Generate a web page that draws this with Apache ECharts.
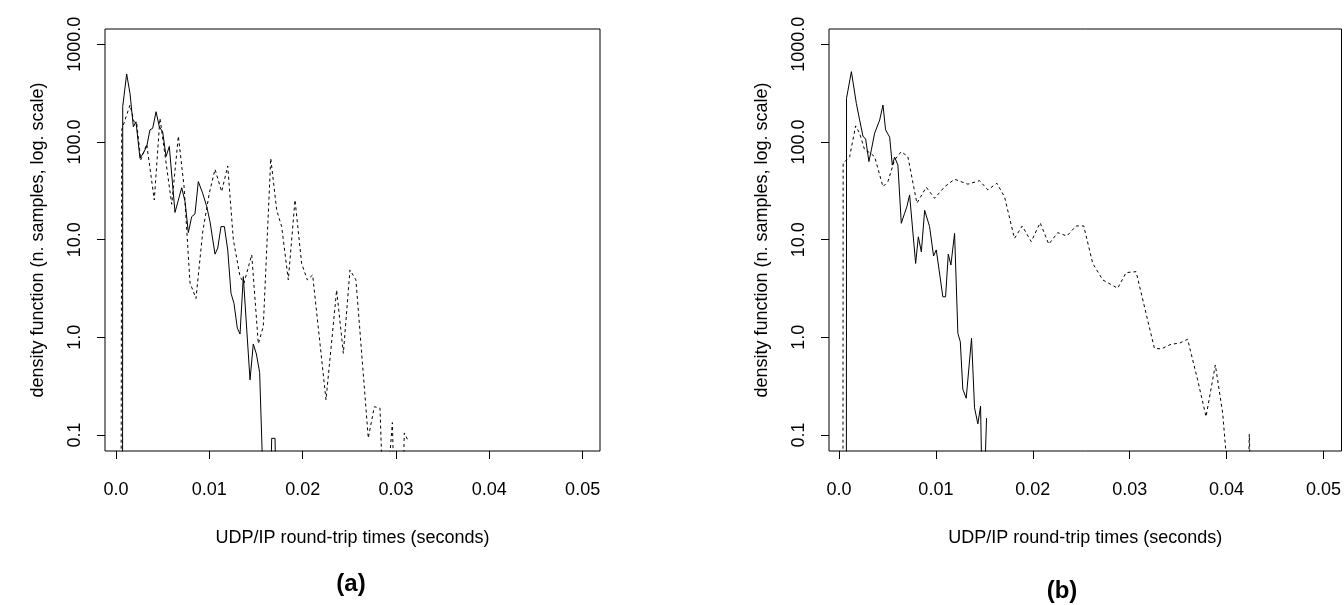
<!DOCTYPE html>
<html>
<head>
<meta charset="utf-8">
<script src="https://cdn.jsdelivr.net/npm/echarts@6/dist/echarts.min.js"></script>
<style>
html,body{margin:0;padding:0;background:#fff;}
#chart{width:1344px;height:605px;}
</style>
</head>
<body>
<div id="chart"></div>
<script>
// ---- data (x: seconds, y: density, log scale) ----
var leftSolid = [
 [0.00070,0.01],[0.00072,230],[0.00114,497],[0.00150,313],[0.00186,143],[0.00214,161],
 [0.00257,68],[0.00293,77],[0.00329,90],[0.00364,133],[0.00393,138],[0.00429,204],
 [0.00464,143],[0.00500,127],[0.00536,71],[0.00571,90],[0.00632,19],[0.00704,34],
 [0.00740,24.5],[0.00775,11.8],[0.00811,17.2],[0.00846,18.3],[0.00882,39.3],[0.00929,29.8],
 [0.00972,21.8],[0.01007,15.3],[0.01061,7.1],[0.01090,8.2],[0.01125,13.6],[0.01161,13.6],
 [0.01197,7.85],[0.01232,2.83],[0.01264,2.23],[0.01300,1.24],[0.01329,1.08],[0.01364,4.18],
 [0.01436,0.367],[0.01471,0.855],[0.01504,0.676],[0.01539,0.436],[0.01593,0.01],
 [0.01650,0.01],[0.01668,0.0925],[0.01704,0.0925],[0.01722,0.01]
];
var leftDashed = [
 [0.00054,0.01],[0.00061,133],[0.00150,239],[0.00193,161],[0.00222,155],[0.00265,65.5],
 [0.00329,95],[0.00410,25.5],[0.00471,175],[0.00597,23],[0.00668,115],[0.00729,35],
 [0.00793,3.6],[0.00857,2.5],[0.00929,12],[0.01000,30],[0.01061,52.5],[0.01132,31],
 [0.01197,56.8],[0.01257,10],[0.01329,4.18],[0.01371,3.58],[0.01454,7.0],[0.01525,0.86],
 [0.01578,1.29],[0.01658,68],[0.01693,34.8],[0.01722,20],[0.01775,13.6],[0.01846,3.87],
 [0.01918,25.5],[0.01989,5.7],[0.02050,3.87],[0.02107,4.35],[0.02250,0.229],[0.02364,3.05],
 [0.02436,0.687],[0.02507,4.9],[0.02571,3.87],[0.02703,0.093],[0.02768,0.195],[0.02829,0.188],
 [0.02872,0.01],[0.02961,0.134],[0.02993,0.01],[0.03064,0.01],[0.03089,0.105],[0.03137,0.085]
];
var rightSolid = [
 [0.00076,0.01],[0.00078,280],[0.00128,525],[0.00179,249],[0.00213,168],[0.00247,115],
 [0.00275,107],[0.00309,63],[0.00334,83],[0.00368,123],[0.00420,168],[0.00454,239],
 [0.00481,133],[0.00523,112],[0.00550,58],[0.00574,70],[0.00608,58],[0.00643,14.7],
 [0.00677,18.6],[0.00701,21.8],[0.00729,28.7],[0.00791,5.7],[0.00819,10.7],[0.00850,7.5],
 [0.00884,20],[0.00935,13.6],[0.00976,6.8],[0.01004,7.85],[0.01072,2.6],[0.01100,2.6],
 [0.01128,7.1],[0.01155,5.5],[0.01193,11.6],[0.01227,1.1],[0.01252,0.9],[0.01278,0.294],
 [0.01313,0.238],[0.01368,0.98],[0.01399,0.19],[0.01433,0.13],[0.01461,0.197],
 [0.01485,0.01],[0.01523,0.149]
];
var rightDashed = [
 [0.00041,0.01],[0.00043,60.5],[0.00110,70.7],[0.00172,146],[0.00213,123],[0.00265,82.8],
 [0.00316,78],[0.00368,70.7],[0.00454,34.8],[0.00505,39.3],[0.00574,65.5],[0.00643,79.6],
 [0.00711,70.7],[0.00804,23.6],[0.00901,34.4],[0.00987,26.5],[0.01090,34.8],[0.01193,41.5],
 [0.01330,37],[0.01451,40.2],[0.01536,32.3],[0.01629,37.8],[0.01708,27.5],[0.01811,10.3],
 [0.01891,13.8],[0.01984,9.55],[0.02076,14.9],[0.02165,9.0],[0.02258,11.8],[0.02351,10.9],
 [0.02447,13.8],[0.02526,13.8],[0.02619,5.7],[0.02722,3.87],[0.02876,3.18],[0.02963,4.6],
 [0.03066,4.7],[0.03255,0.773],[0.03324,0.76],[0.03427,0.85],[0.03512,0.87],[0.03598,0.955],
 [0.03701,0.367],[0.03788,0.154],[0.03884,0.521],[0.03960,0.167],[0.04062,0.01],
 [0.04216,0.01],[0.04234,0.102],[0.04265,0.01]
];
var xTicks = [0, 0.01, 0.02, 0.03, 0.04, 0.05];
var xTickLabels = ['0.0', '0.01', '0.02', '0.03', '0.04', '0.05'];
var yTicks = [0.1, 1, 10, 100, 1000];
var yTickLabels = ['0.1', '1.0', '10.0', '100.0', '1000.0'];
var xTitle = 'UDP/IP round-trip times (seconds)';
var yTitle = 'density function (n. samples, log. scale)';
var panelLabels = ['(a)', '(b)'];

var FONT = '"Liberation Sans", Arial, Helvetica, sans-serif';

function xAxisFor(gi, min, max) {
  return {
    type: 'value', gridIndex: gi, min: min, max: max,
    splitLine: {show: false},
    axisLine: {show: false, onZero: false},
    axisTick: {show: true, inside: false, length: 8, customValues: xTicks,
      lineStyle: {color: '#000', width: 1}},
    axisLabel: {customValues: xTicks, margin: 30, color: '#000', fontSize: 18, fontFamily: FONT,
      formatter: function (v) { var i = xTicks.indexOf(v); return i >= 0 ? xTickLabels[i] : ''; }},
    name: xTitle, nameLocation: 'middle', nameGap: 78,
    nameTextStyle: {color: '#000', fontSize: 18, fontFamily: FONT}
  };
}
function yAxisFor(gi) {
  return {
    type: 'log', gridIndex: gi, min: 0.0686, max: 1434, logBase: 10,
    splitLine: {show: false},
    axisLine: {show: false, onZero: false},
    axisTick: {show: true, inside: false, length: 8, customValues: yTicks,
      lineStyle: {color: '#000', width: 1}},
    axisLabel: {customValues: yTicks, rotate: 90, margin: 21, color: '#000', fontSize: 18, fontFamily: FONT,
      formatter: function (v) {
        for (var i = 0; i < yTicks.length; i++) { if (Math.abs(v - yTicks[i]) < yTicks[i] * 1e-6) return yTickLabels[i]; }
        return '';
      }},
    name: yTitle, nameLocation: 'middle', nameRotate: 90, nameGap: 58,
    nameTextStyle: {color: '#000', fontSize: 18, fontFamily: FONT}
  };
}
function lineSeries(data, xi, dashed) {
  return {
    type: 'line', xAxisIndex: xi, yAxisIndex: xi, data: data,
    showSymbol: false, symbol: 'none', clip: true, animation: false,
    lineStyle: {color: '#000', width: 1, type: dashed ? [3, 3] : 'solid'}
  };
}

var chart = echarts.init(document.getElementById('chart'), null, {renderer: 'canvas'});
chart.setOption({
  backgroundColor: '#fff',
  animation: false,
  grid: [
    {left: 105, top: 29, width: 495, height: 422, show: true, borderColor: '#000', borderWidth: 1, backgroundColor: 'transparent', containLabel: false},
    {left: 829, top: 29, width: 513, height: 422, show: true, borderColor: '#000', borderWidth: 1, backgroundColor: 'transparent', containLabel: false}
  ],
  xAxis: [xAxisFor(0, -0.00118, 0.05186), xAxisFor(1, -0.00103, 0.05186)],
  yAxis: [yAxisFor(0), yAxisFor(1)],
  series: [
    lineSeries(leftSolid, 0, false),
    lineSeries(leftDashed, 0, true),
    lineSeries(rightSolid, 1, false),
    lineSeries(rightDashed, 1, true)
  ],
  graphic: [
    {type: 'text', x: 351, y: 584, style: {text: panelLabels[0], font: 'bold 24px ' + FONT, fill: '#000', align: 'center', verticalAlign: 'middle'}},
    {type: 'text', x: 1062, y: 591, style: {text: panelLabels[1], font: 'bold 24px ' + FONT, fill: '#000', align: 'center', verticalAlign: 'middle'}}
  ]
});
</script>
</body>
</html>
